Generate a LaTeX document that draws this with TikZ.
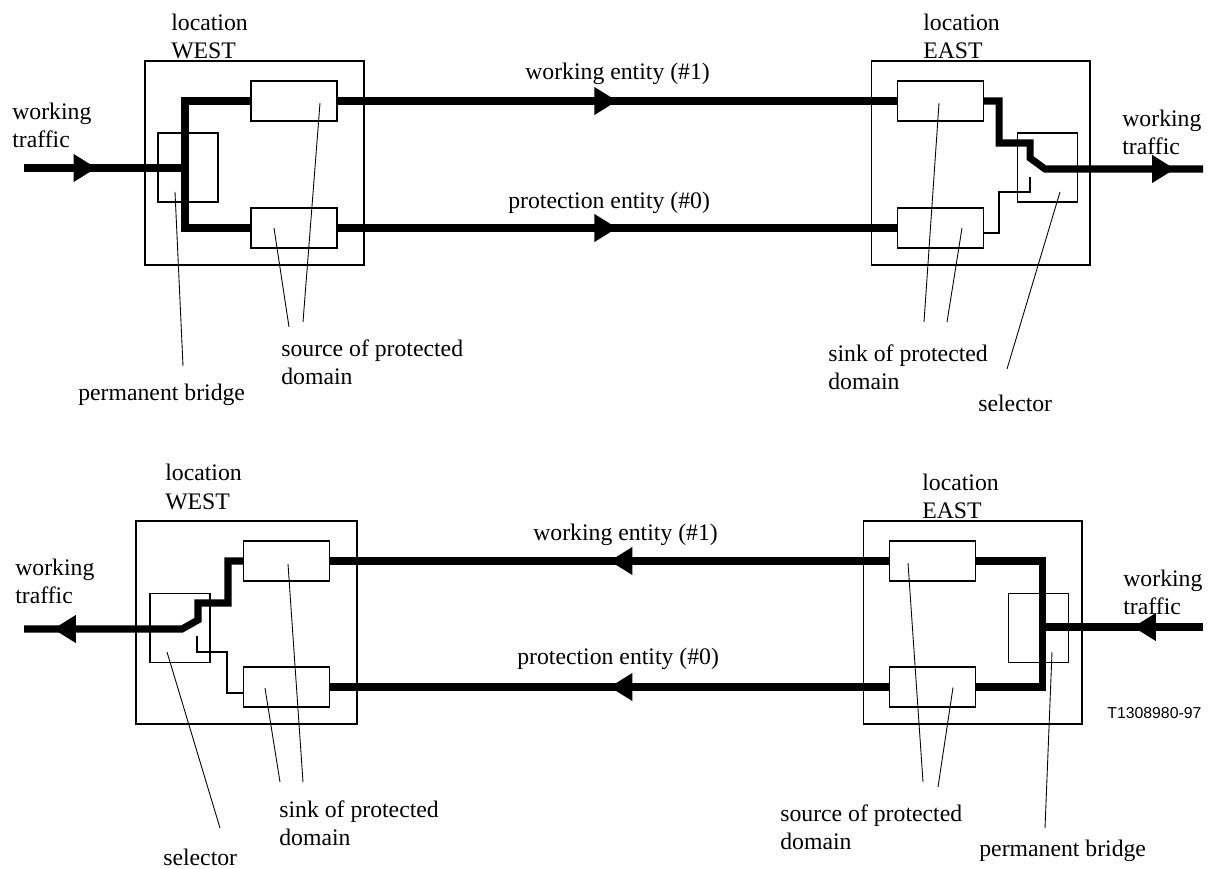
\documentclass[tikz,border=0pt]{standalone}
\usepackage{fontspec}
\setmainfont{Liberation Serif}
\setsansfont{Liberation Sans}
\usetikzlibrary{arrows.meta,decorations.markings}

\begin{document}
\begin{tikzpicture}[x=0.02cm,y=-0.02cm,
  site/.style={draw,line width=0.6pt,minimum width=4.38cm,minimum height=4.08cm,inner sep=0pt},
  dombox/.style={draw,line width=0.6pt,minimum width=1.72cm,minimum height=0.8cm,inner sep=0pt},
  swbox/.style={draw,line width=0.6pt,minimum width=1.2cm,minimum height=1.38cm,inner sep=0pt},
  main/.style={line width=4pt,line join=miter},
  aux/.style={line width=1.1pt},
  pointer/.style={line width=0.5pt},
  lbl/.style={anchor=west,align=left,inner sep=0pt,font=\fontsize{13.5}{16}\selectfont},
  flowtip/.style={postaction={decorate},decoration={markings,
    mark=at position #1 with {\arrow{Triangle[length=13pt,width=15pt]}}}}]
  \useasboundingbox (0,0) rectangle (1209,868);

  % WEST -> EAST
  \node[site] (wO) at (254.5,163) {};
  \node[site] (eO) at (980.5,163) {};
  \node[dombox] (wS1) at (294,101) {};
  \node[dombox] (wS0) at (294,228) {};
  \node[dombox] (eK1) at (940.5,101) {};
  \node[dombox] (eK0) at (940.5,228) {};
  \node[swbox] (wBr) at (188,167.5) {};
  \node[swbox] (eSel) at (1047.5,167.5) {};
  \coordinate (wIn) at (24,168);
  \coordinate (wBus) at (185,168);
  \coordinate (eOut) at (1203,169);

  \draw[main] (wS1.west) -| (wBus) |- (wS0.west);
  \draw[main,flowtip=1.45cm] (wIn) -- (wBus);
  \draw[main,flowtip=0.5] (wS1.east) -- (eK1.west);
  \draw[main,flowtip=0.5] (wS0.east) -- (eK0.west);
  \draw[main,flowtip=-0.56cm] (eK1.east) -| (999,143) -- (1030,143) -- (1030,158) -- (1045,169) -- (eOut);
  \draw[aux] ([shift={(0,5)}]eK0.east) -| (999,192) -- (1030,192) -- (1030,177);

  \node[lbl] (tWloc) at (171,36.5) {location\\WEST};
  \node[lbl] (tEloc) at (923,36.5) {location\\EAST};
  \node[lbl] (tWtr) at (12,125) {working\\traffic};
  \node[lbl] (tEtr) at (1122,132) {working\\traffic};
  \node[lbl] (tWork) at (525,74) {working entity (\#1)};
  \node[lbl] (tProt) at (508,203) {protection entity (\#0)};
  \node[lbl] (tBr) at (78,395) {permanent bridge};
  \node[lbl] (tSrc) at (281,362.5) {source of protected\\domain};
  \node[lbl] (tSink) at (828,367.5) {sink of protected\\domain};
  \node[lbl] (tSel) at (978,403) {selector};

  \draw[pointer] ([shift={(-13,24.5)}]wBr.center) -- ([shift={(105,-29)}]tBr.west);
  \draw[pointer] ([shift={(26,2)}]wS1.center) -- ([shift={(22,-40.5)}]tSrc.west);
  \draw[pointer] ([shift={(-20,0)}]wS0.center) -- ([shift={(8,-35.5)}]tSrc.west);
  \draw[pointer] ([shift={(-1.5,2)}]eK1.center) -- ([shift={(96,-45.5)}]tSink.west);
  \draw[pointer] ([shift={(21.5,0)}]eK0.center) -- ([shift={(119,-45.5)}]tSink.west);
  \draw[pointer] ([shift={(12.5,24.5)}]eSel.center) -- ([shift={(29,-34)}]tSel.west);

  % EAST -> WEST
  \node[site,minimum width=4.42cm,minimum height=4.06cm] (bwO) at (246.5,622.5) {};
  \node[site,minimum height=4.06cm] (beO) at (972.5,622.5) {};
  \node[dombox] (bwK1) at (286.5,561) {};
  \node[dombox] (bwK0) at (286.5,687) {};
  \node[dombox] (beS1) at (932.5,561) {};
  \node[dombox] (beS0) at (932.5,687) {};
  \node[swbox] (bwSel) at (180,628) {};
  \node[swbox] (beBr) at (1038.5,628) {};
  \coordinate (bwOut) at (24,629);
  \coordinate (beIn) at (1203,627);
  \coordinate (beBus) at (1042,627);

  \draw[main] (beS1.east) -| (beBus) |- (beS0.east);
  \draw[main,flowtip=1.4cm] (beIn) -- (beBus);
  \draw[main,flowtip=0.5] (beS1.west) -- (bwK1.east);
  \draw[main,flowtip=0.5] (beS0.west) -- (bwK0.east);
  \draw[main,flowtip=-0.58cm] (bwK1.west) -| (228,603) -- (198,603) -- (198,620) -- (182,629) -- (bwOut);
  \draw[aux] ([shift={(0,6)}]bwK0.west) -| (227,652) -- (197,652) -- (197,636);

  \node[lbl] (bWloc) at (165,487) {location\\WEST};
  \node[lbl] (bEloc) at (922,496) {location\\EAST};
  \node[lbl] (bWtr) at (15,581) {working\\traffic};
  \node[lbl] (bEtr) at (1123,592.5) {working\\traffic};
  \node[lbl] (bWork) at (533,535) {working entity (\#1)};
  \node[lbl] (bProt) at (517,659) {protection entity (\#0)};
  \node[lbl] (bSel) at (163,857) {selector};
  \node[lbl] (bSink) at (279,823.5) {sink of protected\\domain};
  \node[lbl] (bSrc) at (780,827.5) {source of protected\\domain};
  \node[lbl] (bBr) at (979,851) {permanent bridge};
  \node[lbl,font=\sffamily\fontsize{9}{10}\selectfont] (tag) at (1107,713) {T1308980-97};

  \draw[pointer] ([shift={(-13,24)}]bwSel.center) -- ([shift={(57,-29)}]bSel.west);
  \draw[pointer] ([shift={(1.5,3)}]bwK1.center) -- ([shift={(24,-41.5)}]bSink.west);
  \draw[pointer] ([shift={(-21.5,1)}]bwK0.center) -- ([shift={(1,-41.5)}]bSink.west);
  \draw[pointer] ([shift={(-24.5,2)}]beS1.center) -- ([shift={(143,-45.5)}]bSrc.west);
  \draw[pointer] ([shift={(20.5,0.5)}]beS0.center) -- ([shift={(158,-40.5)}]bSrc.west);
  \draw[pointer] ([shift={(13.5,24)}]beBr.center) -- ([shift={(66,-23)}]bBr.west);
\end{tikzpicture}
\end{document}
